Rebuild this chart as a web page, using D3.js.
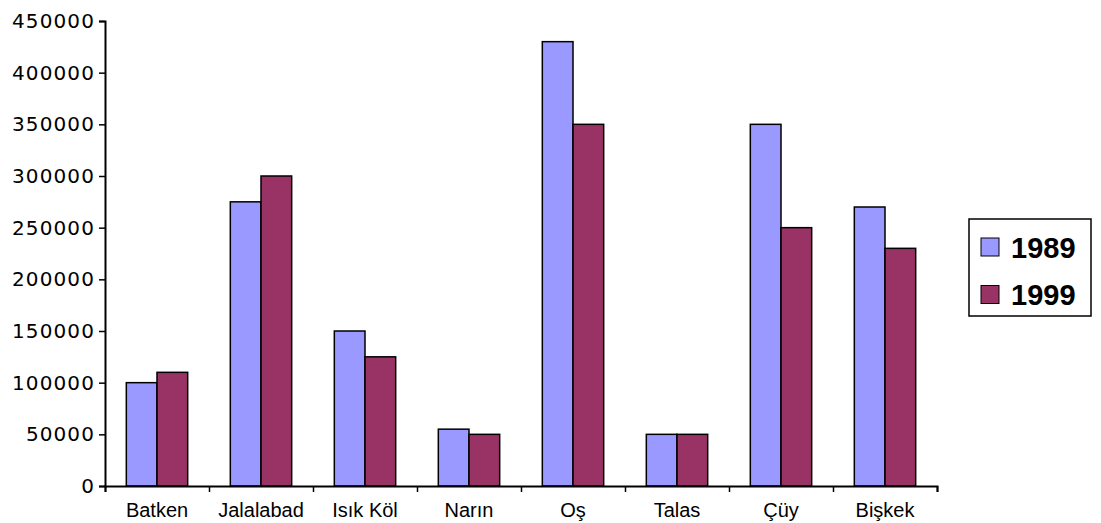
<!DOCTYPE html>
<html lang="en">
<head>
  <meta charset="UTF-8">
  <title>Population 1989 / 1999</title>
  <script src="https://d3js.org/d3.v7.min.js"></script>
  <style>
    body {
      margin: 0;
      background: #fff;
    }

    svg {
      display: block;
    }

    .y-axis text {
      font-family: "DejaVu Sans", Verdana, sans-serif;
      font-size: 20px;
      letter-spacing: 1.1px;
      fill: #000;
    }

    .x-axis text {
      font-family: "Liberation Sans", Arial, sans-serif;
      font-size: 20px;
      fill: #000;
    }

    .legend text {
      font-family: "Liberation Sans", Arial, sans-serif;
      font-size: 29px;
      font-weight: bold;
    }
  </style>
</head>
<body>
  <svg width="1101" height="523"></svg>

  <script>
    const regions = ["Batken", "Jalalabad", "Isık Köl", "Narın", "Oş", "Talas", "Çüy", "Bişkek"];
    const years = ["1989", "1999"];
    const pop1989 = [100000, 275000, 150000, 55000, 430000, 50000, 350000, 270000];
    const pop1999 = [110000, 300000, 125000, 50000, 350000, 50000, 250000, 230000];
    const yTicks = [0, 50000, 100000, 150000, 200000, 250000, 300000, 350000, 400000, 450000];

    const colors = { "1989": "#9999ff", "1999": "#993366" };

    const margin = { top: 21, left: 105 };
    const width = 832;
    const height = 465;

    const svg = d3.select("svg");
    const g = svg.append("g")
      .attr("transform", `translate(${margin.left},${margin.top})`);

    const rows = regions.map((r, i) => ({ region: r, "1989": pop1989[i], "1999": pop1999[i] }));

    const x0 = d3.scaleBand()
      .domain(regions)
      .range([0, width])
      .paddingInner(0.41)
      .paddingOuter(0.205);

    const x1 = d3.scaleBand()
      .domain(years)
      .range([0, x0.bandwidth()]);

    const y = d3.scaleLinear()
      .domain([0, 450000])
      .range([height, 0]);

    // bars
    g.selectAll(".group")
      .data(rows)
      .join("g")
      .attr("class", "group")
      .attr("transform", d => `translate(${x0(d.region)},0)`)
      .selectAll("rect")
      .data(d => years.map(k => ({ key: k, value: d[k] })))
      .join("rect")
      .attr("x", d => x1(d.key))
      .attr("y", d => y(d.value))
      .attr("width", x1.bandwidth())
      .attr("height", d => height - y(d.value))
      .attr("fill", d => colors[d.key])
      .attr("stroke", "#000")
      .attr("stroke-width", 1.5);

    // y axis
    const yAxis = g.append("g")
      .attr("class", "y-axis")
      .call(d3.axisLeft(y)
        .tickValues(yTicks)
        .tickFormat(d3.format("d"))
        .tickSizeOuter(0)
        .tickSize(6)
        .tickPadding(4));
    yAxis.select(".domain").attr("stroke-width", 2);
    yAxis.selectAll(".tick line").attr("stroke-width", 1.5);

    // x axis: category boundary ticks + centred labels
    const xEdge = d3.scaleLinear().domain([0, regions.length]).range([0, width]);
    const xTicks = g.append("g")
      .attr("transform", `translate(0,${height})`)
      .call(d3.axisBottom(xEdge)
        .tickValues(d3.range(regions.length + 1))
        .tickFormat("")
        .tickSizeOuter(0)
        .tickSize(6));
    xTicks.select(".domain").attr("stroke-width", 2);
    xTicks.selectAll(".tick line").attr("stroke-width", 1.5);

    const xLabels = g.append("g")
      .attr("class", "x-axis")
      .attr("transform", `translate(0,${height})`)
      .call(d3.axisBottom(x0).tickSize(0).tickPadding(16.5));
    xLabels.select(".domain").remove();

    // legend
    const legend = svg.append("g")
      .attr("class", "legend")
      .attr("transform", "translate(969,219)");

    legend.append("rect")
      .attr("width", 122)
      .attr("height", 97)
      .attr("fill", "#fff")
      .attr("stroke", "#000")
      .attr("stroke-width", 1.5);

    const items = legend.selectAll(".item")
      .data(years)
      .join("g")
      .attr("class", "item")
      .attr("transform", (d, i) => `translate(12,${19 + i * 47.5})`);

    items.append("rect")
      .attr("width", 18)
      .attr("height", 18)
      .attr("fill", d => colors[d])
      .attr("stroke", "#000")
      .attr("stroke-width", 1);

    items.append("text")
      .attr("x", 30)
      .attr("y", 19.5)
      .text(d => d);
  </script>
</body>
</html>
